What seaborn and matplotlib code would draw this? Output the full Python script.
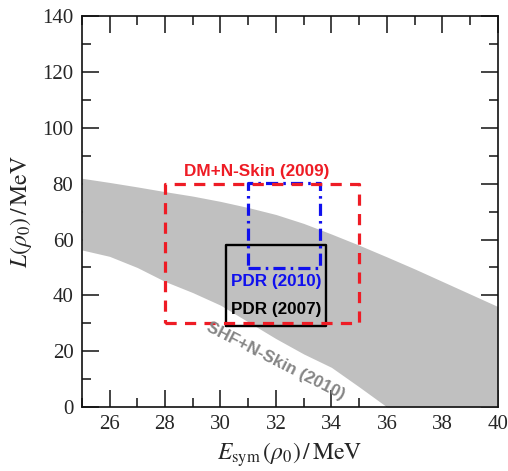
import numpy as np
import pandas as pd
import matplotlib
matplotlib.use("Agg")
import matplotlib.pyplot as plt
import seaborn as sns
from matplotlib.ticker import MultipleLocator

# ---- data ----
band_upper_x = [25, 26, 27, 28, 29, 30, 31, 32, 33, 34, 35, 36, 37, 38, 39, 40]
band_upper_y = [82.0, 80.5, 78.9, 77.2, 75.6, 73.7, 71.5, 69.0, 65.8, 62.0,
                58.0, 53.8, 49.5, 45.0, 40.5, 36.0]
band_lower_x = [25, 26, 27, 28, 29, 30, 31, 32, 33, 34, 35, 36]
band_lower_y = [56.3, 54.0, 50.0, 45.0, 41.0, 36.5, 30.5, 24.5, 19.0, 14.2, 7.2, 0.0]

box_names = ["DM+N-Skin (2009)", "PDR (2010)", "PDR (2007)"]
box_xmin = [28.0, 31.0, 30.2]
box_xmax = [35.0, 33.6, 33.8]
box_ymin = [30.0, 49.7, 29.0]
box_ymax = [80.0, 80.4, 58.0]

label_x = [31.3, 32.0, 32.0]
label_y = [84.3, 45.0, 34.8]
band_label = "SHF+N-Skin (2010)"
band_label_pos = (32.0, 16.3)

xticks = [26, 28, 30, 32, 34, 36, 38, 40]
yticks = [0, 20, 40, 60, 80, 100, 120, 140]

# ---- style ----
sns.set_theme(style="ticks")
plt.rcParams["font.family"] = ["Liberation Serif", "DejaVu Serif"]
plt.rcParams["mathtext.fontset"] = "stix"

fig = plt.figure(figsize=(5.08, 4.71), dpi=100)
ax = fig.add_axes([0.161, 0.136, 0.819, 0.829])

# band
xs = np.linspace(25, 40, 601)
up = np.interp(xs, band_upper_x, band_upper_y)
lo = np.interp(xs, band_lower_x, band_lower_y)
ax.fill_between(xs, lo, up, color="#c0c0c0", lw=0, zorder=1)

colors = ["#ee1c25", "#1010ee", "#000000"]
styles = [(0, (3.5, 2.6)), (0, (3.8, 1.6, 0.8, 1.6)), "-"]
widths = [2.3, 2.3, 1.7]
for i, name in enumerate(box_names):
    df = pd.DataFrame({
        "x": [box_xmin[i], box_xmax[i], box_xmax[i], box_xmin[i], box_xmin[i]],
        "y": [box_ymin[i], box_ymin[i], box_ymax[i], box_ymax[i], box_ymin[i]],
    })
    sns.lineplot(data=df, x="x", y="y", sort=False, estimator=None, ax=ax,
                 color=colors[i], lw=widths[i], zorder=3 + (2 - i) * 0.1)
    ax.lines[-1].set_linestyle(styles[i])
    ax.text(label_x[i], label_y[i], name, color=colors[i], fontsize=12.3,
            fontweight="bold", family=["Liberation Sans", "DejaVu Sans"],
            ha="center", va="center", zorder=5)

ax.text(band_label_pos[0], band_label_pos[1], band_label, color="#858585",
        fontsize=12.3, fontweight="bold",
        family=["Liberation Sans", "DejaVu Sans"], rotation=-27,
        ha="center", va="center", rotation_mode="anchor", zorder=5)

ax.set_xlim(25, 40)
ax.set_ylim(0, 140)
ax.set_xticks(xticks)
ax.set_yticks(yticks)
ax.xaxis.set_minor_locator(MultipleLocator(1))
ax.yaxis.set_minor_locator(MultipleLocator(10))
ax.tick_params(which="both", direction="in", top=True, right=True,
               labelsize=15, width=1.1, color="#111111", pad=6)
ax.tick_params(which="major", length=12.5)
ax.tick_params(which="minor", length=6.3)
for s in ax.spines.values():
    s.set_linewidth(1.2)
    s.set_color("#111111")

ax.set_xlabel(r"$E_{\rm sym}\,(\rho_0)\,/\,{\rm MeV}$", fontsize=17, labelpad=4)
ax.set_ylabel(r"$L(\rho_0)\,/\,{\rm MeV}$", fontsize=17, labelpad=6)

fig.savefig("out.png", dpi=100)
